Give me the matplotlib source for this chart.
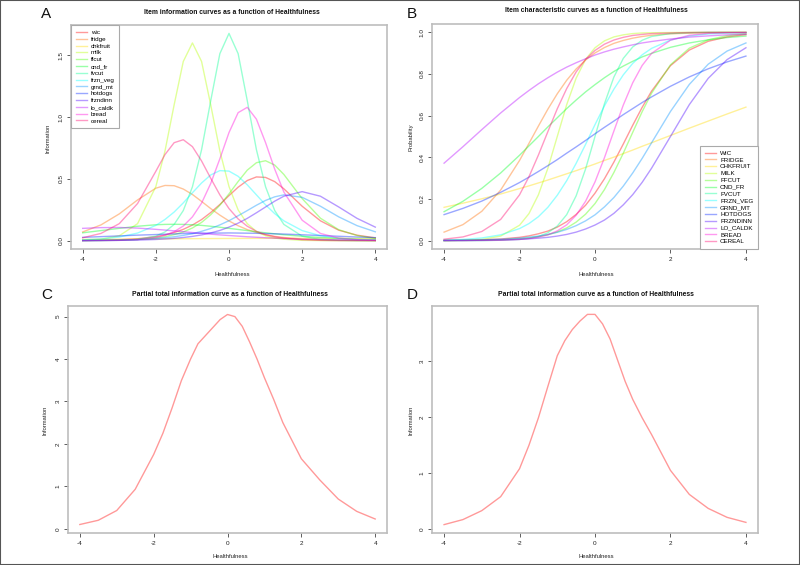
import matplotlib.pyplot as plt
from matplotlib.patches import Rectangle

plt.rcParams['font.family'] = ['Liberation Sans', 'DejaVu Sans']

# Healthfulness grid (x values for panels A and B)
theta = [-4.0, -3.5, -3.0, -2.5, -2.0, -1.75, -1.5, -1.25, -1.0, -0.75, -0.5, -0.25, 0.0,
         0.25, 0.5, 0.75, 1.0, 1.25, 1.5, 2.0, 2.5, 3.0, 3.5, 4.0]

item_names = ['wic', 'fridge', 'chkfruit', 'milk', 'ffcut', 'cnd_fr', 'fvcut',
              'frzn_veg', 'grnd_mt', 'hotdogs', 'frzndinn', 'lo_caldk', 'bread', 'cereal']
item_labels_upper = ['WIC', 'FRIDGE', 'CHKFRUIT', 'MILK', 'FFCUT', 'CND_FR', 'FVCUT',
                     'FRZN_VEG', 'GRND_MT', 'HOTDOGS', 'FRZNDINN', 'LO_CALDK', 'BREAD', 'CEREAL']

# A: item information
info_wic = [0.002, 0.004, 0.008, 0.016, 0.033, 0.047, 0.066, 0.092, 0.127, 0.171, 0.228, 0.293, 0.365, 0.433, 0.487, 0.516, 0.512, 0.478, 0.420, 0.279, 0.161, 0.085, 0.045, 0.023]
info_fridge = [0.071, 0.128, 0.217, 0.330, 0.425, 0.447, 0.445, 0.418, 0.374, 0.318, 0.260, 0.207, 0.160, 0.121, 0.090, 0.067, 0.049, 0.035, 0.026, 0.013, 0.007, 0.004, 0.002, 0.001]
info_chkfruit = [0.0105, 0.0115, 0.0126, 0.0136, 0.0147, 0.0152, 0.0157, 0.0162, 0.0166, 0.0171, 0.0175, 0.0179, 0.0182, 0.0186, 0.0188, 0.0191, 0.0193, 0.0194, 0.0195, 0.0196, 0.0195, 0.0192, 0.0187, 0.0180]
info_milk = [0.003, 0.012, 0.040, 0.138, 0.438, 0.726, 1.099, 1.450, 1.600, 1.450, 1.099, 0.726, 0.438, 0.249, 0.138, 0.075, 0.040, 0.022, 0.012, 0.003, 0.001, 0.000, 0.000, 0.000]
info_ffcut = [0.001, 0.002, 0.004, 0.010, 0.022, 0.033, 0.049, 0.071, 0.103, 0.148, 0.210, 0.287, 0.379, 0.479, 0.571, 0.631, 0.647, 0.612, 0.536, 0.341, 0.182, 0.089, 0.042, 0.019]
info_cnd_fr = [0.064, 0.082, 0.100, 0.117, 0.129, 0.132, 0.133, 0.132, 0.129, 0.124, 0.117, 0.109, 0.100, 0.091, 0.082, 0.072, 0.064, 0.056, 0.048, 0.036, 0.026, 0.019, 0.013, 0.009]
info_fvcut = [0.000, 0.001, 0.003, 0.010, 0.037, 0.071, 0.132, 0.244, 0.436, 0.736, 1.132, 1.513, 1.677, 1.513, 1.132, 0.736, 0.436, 0.244, 0.132, 0.037, 0.010, 0.003, 0.001, 0.000]
info_frzn_veg = [0.007, 0.014, 0.030, 0.062, 0.124, 0.172, 0.232, 0.306, 0.388, 0.467, 0.532, 0.567, 0.563, 0.521, 0.452, 0.371, 0.290, 0.219, 0.161, 0.082, 0.040, 0.019, 0.009, 0.004]
info_grnd_mt = [0.002, 0.003, 0.005, 0.010, 0.018, 0.024, 0.032, 0.043, 0.057, 0.076, 0.099, 0.128, 0.162, 0.202, 0.244, 0.287, 0.326, 0.355, 0.371, 0.351, 0.279, 0.193, 0.122, 0.072]
info_hotdogs = [0.027, 0.033, 0.039, 0.045, 0.050, 0.053, 0.055, 0.058, 0.059, 0.061, 0.062, 0.062, 0.063, 0.062, 0.061, 0.060, 0.058, 0.056, 0.054, 0.048, 0.042, 0.036, 0.030, 0.025]
info_frzndinn = [0.001, 0.002, 0.003, 0.005, 0.010, 0.014, 0.019, 0.026, 0.035, 0.047, 0.063, 0.083, 0.110, 0.142, 0.181, 0.226, 0.273, 0.320, 0.360, 0.397, 0.360, 0.273, 0.181, 0.110]
info_lo_caldk = [0.100, 0.106, 0.107, 0.102, 0.092, 0.086, 0.080, 0.073, 0.066, 0.060, 0.053, 0.047, 0.042, 0.037, 0.032, 0.028, 0.024, 0.021, 0.018, 0.013, 0.010, 0.007, 0.005, 0.004]
info_bread = [0.000, 0.001, 0.003, 0.009, 0.026, 0.044, 0.073, 0.119, 0.193, 0.304, 0.463, 0.663, 0.875, 1.036, 1.079, 0.983, 0.793, 0.579, 0.394, 0.166, 0.059, 0.021, 0.008, 0.003]
info_cereal = [0.024, 0.059, 0.138, 0.301, 0.562, 0.697, 0.793, 0.817, 0.761, 0.645, 0.505, 0.371, 0.260, 0.176, 0.117, 0.076, 0.049, 0.032, 0.021, 0.008, 0.003, 0.001, 0.001, 0.000]

# B: item characteristic curves (probability)
prob_wic = [0.001, 0.002, 0.004, 0.008, 0.016, 0.023, 0.033, 0.046, 0.065, 0.091, 0.126, 0.170, 0.228, 0.297, 0.377, 0.464, 0.554, 0.640, 0.718, 0.840, 0.915, 0.957, 0.978, 0.989]
prob_fridge = [0.041, 0.077, 0.141, 0.243, 0.385, 0.467, 0.550, 0.631, 0.705, 0.770, 0.824, 0.867, 0.901, 0.927, 0.947, 0.961, 0.972, 0.980, 0.986, 0.993, 0.996, 0.998, 0.999, 0.999]
prob_chkfruit = [0.160, 0.180, 0.201, 0.224, 0.250, 0.263, 0.277, 0.291, 0.306, 0.321, 0.336, 0.352, 0.368, 0.385, 0.401, 0.418, 0.435, 0.453, 0.470, 0.505, 0.540, 0.574, 0.608, 0.641]
prob_milk = [0.001, 0.002, 0.006, 0.022, 0.074, 0.130, 0.220, 0.347, 0.500, 0.653, 0.780, 0.870, 0.926, 0.959, 0.978, 0.988, 0.994, 0.997, 0.998, 0.999, 1.000, 1.000, 1.000, 1.000]
prob_ffcut = [0.000, 0.001, 0.002, 0.004, 0.009, 0.013, 0.019, 0.028, 0.042, 0.061, 0.089, 0.127, 0.178, 0.245, 0.327, 0.420, 0.520, 0.619, 0.708, 0.844, 0.924, 0.964, 0.984, 0.993]
prob_cnd_fr = [0.139, 0.189, 0.251, 0.325, 0.410, 0.455, 0.500, 0.546, 0.590, 0.634, 0.675, 0.714, 0.749, 0.782, 0.812, 0.838, 0.861, 0.882, 0.899, 0.928, 0.949, 0.964, 0.975, 0.982]
prob_fvcut = [0.000, 0.000, 0.000, 0.002, 0.006, 0.011, 0.020, 0.038, 0.070, 0.125, 0.215, 0.344, 0.500, 0.657, 0.785, 0.875, 0.930, 0.962, 0.980, 0.994, 0.998, 1.000, 1.000, 1.000]
prob_frzn_veg = [0.003, 0.006, 0.013, 0.028, 0.058, 0.082, 0.115, 0.160, 0.218, 0.288, 0.371, 0.462, 0.557, 0.647, 0.727, 0.796, 0.851, 0.892, 0.923, 0.963, 0.982, 0.992, 0.996, 0.998]
prob_grnd_mt = [0.001, 0.002, 0.004, 0.007, 0.012, 0.017, 0.022, 0.030, 0.040, 0.054, 0.072, 0.095, 0.124, 0.162, 0.207, 0.262, 0.325, 0.395, 0.470, 0.620, 0.750, 0.847, 0.910, 0.949]
prob_hotdogs = [0.125, 0.155, 0.190, 0.232, 0.279, 0.305, 0.332, 0.360, 0.389, 0.420, 0.450, 0.481, 0.513, 0.544, 0.574, 0.605, 0.634, 0.663, 0.690, 0.741, 0.786, 0.825, 0.858, 0.886]
prob_frzndinn = [0.001, 0.001, 0.002, 0.003, 0.006, 0.009, 0.012, 0.016, 0.022, 0.030, 0.041, 0.056, 0.075, 0.099, 0.131, 0.172, 0.221, 0.280, 0.348, 0.500, 0.653, 0.779, 0.869, 0.926]
prob_lo_caldk = [0.372, 0.451, 0.533, 0.613, 0.687, 0.721, 0.753, 0.782, 0.809, 0.833, 0.854, 0.873, 0.891, 0.906, 0.919, 0.930, 0.940, 0.949, 0.956, 0.968, 0.977, 0.983, 0.988, 0.991]
prob_bread = [0.000, 0.000, 0.001, 0.002, 0.006, 0.010, 0.017, 0.028, 0.047, 0.076, 0.122, 0.189, 0.282, 0.398, 0.526, 0.651, 0.758, 0.841, 0.899, 0.962, 0.986, 0.995, 0.998, 0.999]
prob_cereal = [0.007, 0.018, 0.044, 0.102, 0.220, 0.307, 0.411, 0.523, 0.633, 0.730, 0.810, 0.870, 0.913, 0.943, 0.963, 0.976, 0.985, 0.990, 0.994, 0.997, 0.999, 1.000, 1.000, 1.000]

# C / D: partial total information
theta_total = [-4.0, -3.5, -3.0, -2.5, -2.0, -1.75, -1.5, -1.25, -1.0, -0.8, -0.6, -0.4, -0.2,
               0.0, 0.2, 0.4, 0.6, 0.8, 1.0, 1.25, 1.5, 2.0, 2.5, 3.0, 3.5, 4.0]
total_info_c = [0.10, 0.20, 0.43, 0.93, 1.75, 2.25, 2.85, 3.49, 4.00, 4.36, 4.55, 4.74, 4.93,
                5.05, 5.00, 4.77, 4.40, 4.00, 3.56, 3.05, 2.50, 1.65, 1.15, 0.70, 0.41, 0.23]
total_info_d = [0.08, 0.17, 0.33, 0.58, 1.08, 1.50, 1.99, 2.55, 3.10, 3.37, 3.57, 3.72, 3.84,
                3.84, 3.67, 3.40, 3.02, 2.64, 2.32, 1.99, 1.69, 1.05, 0.62, 0.37, 0.21, 0.12]

info_items = [info_wic, info_fridge, info_chkfruit, info_milk, info_ffcut, info_cnd_fr, info_fvcut,
              info_frzn_veg, info_grnd_mt, info_hotdogs, info_frzndinn, info_lo_caldk, info_bread, info_cereal]
prob_items = [prob_wic, prob_fridge, prob_chkfruit, prob_milk, prob_ffcut, prob_cnd_fr, prob_fvcut,
              prob_frzn_veg, prob_grnd_mt, prob_hotdogs, prob_frzndinn, prob_lo_caldk, prob_bread, prob_cereal]

# R rainbow(14) palette, drawn semi-transparent
colors = ['#FF0000', '#FF6D00', '#FFDB00', '#B6FF00', '#49FF00', '#00FF24', '#00FF92',
          '#00FFFF', '#0092FF', '#0024FF', '#4900FF', '#B600FF', '#FF00DB', '#FF006D']
ALPHA = 0.4

W, H = 800, 565
fig = plt.figure(figsize=(W / 100, H / 100), dpi=100)


def px_axes(left, top, right, bottom):
    return fig.add_axes([left / W, 1 - bottom / H, (right - left) / W, (bottom - top) / H])


def fig_text(x, y, s, **kw):
    fig.text(x / W, 1 - y / H, s, ha='center', va='center', **kw)


def style(ax, yticks, ylabels, ylim):
    ax.set_xlim(-4.32, 4.32)
    ax.set_ylim(*ylim)
    ax.set_xticks([-4, -2, 0, 2, 4])
    ax.set_xticklabels(['-4', '-2', '0', '2', '4'])
    ax.set_yticks(yticks)
    ax.set_yticklabels(ylabels)
    ax.tick_params(length=3, width=0.6, pad=2.5, labelsize=4.6, color='#444444', labelcolor='#222222')
    ax.tick_params(axis='y', labelrotation=90)
    for lbl in ax.get_yticklabels():
        lbl.set_va('center')
    for sp in ax.spines.values():
        sp.set_color('#BDBDBD')
        sp.set_linewidth(1.2)


def add_legend(ax, loc):
    leg = ax.legend(loc=loc, borderaxespad=0, fontsize=4.5, handlelength=1.8,
                    handletextpad=0.6, labelspacing=0.23, borderpad=0.75, fancybox=False,
                    framealpha=1, edgecolor='#AAAAAA')
    leg.get_frame().set_linewidth(0.8)


axA = px_axes(71, 25, 387, 249)
axB = px_axes(432, 24, 758, 249)
axC = px_axes(68, 306, 387, 533)
axD = px_axes(432, 306, 758, 533)

# Panel A
for vals, name, col in zip(info_items, item_names, colors):
    axA.plot(theta, vals, color=col, alpha=ALPHA, lw=1.0, label=name)
style(axA, [0.0, 0.5, 1.0, 1.5], ['0.0', '0.5', '1.0', '1.5'], (-0.067, 1.745))
add_legend(axA, 'upper left')

# Panel B
for vals, name, col in zip(prob_items, item_labels_upper, colors):
    axB.plot(theta, vals, color=col, alpha=ALPHA, lw=1.0, label=name)
style(axB, [0.0, 0.2, 0.4, 0.6, 0.8, 1.0], ['0.0', '0.2', '0.4', '0.6', '0.8', '1.0'], (-0.04, 1.04))
add_legend(axB, 'lower right')

# Panels C and D
axC.plot(theta_total, total_info_c, color='#FF0000', alpha=ALPHA, lw=1.0)
style(axC, [0, 1, 2, 3, 4, 5], ['0', '1', '2', '3', '4', '5'], (-0.10, 5.25))
axD.plot(theta_total, total_info_d, color='#FF0000', alpha=ALPHA, lw=1.0)
style(axD, [0, 1, 2, 3], ['0', '1', '2', '3'], (-0.07, 3.99))

# Titles, axis labels, panel letters
title_kw = dict(fontsize=4.9, fontweight='bold', color='#111111')
fig_text(232, 12, 'Item information curves as a function of Healthfulness', **title_kw)
fig_text(596, 11, 'Item characteristic curves as a function of Healthfulness', **title_kw)
fig_text(230, 294, 'Partial total information curve as a function of Healthfulness', **title_kw)
fig_text(596, 294, 'Partial total information curve as a function of Healthfulness', **title_kw)

lab_kw = dict(fontsize=4.2, color='#222222')
fig_text(232, 274, 'Healthfulness', **lab_kw)
fig_text(596, 274, 'Healthfulness', **lab_kw)
fig_text(230, 556, 'Healthfulness', **lab_kw)
fig_text(596, 556, 'Healthfulness', **lab_kw)
fig_text(48, 138, 'Information', rotation=90, **lab_kw)
fig_text(411, 137, 'Probability', rotation=90, **lab_kw)
fig_text(45, 420, 'Information', rotation=90, **lab_kw)
fig_text(411, 420, 'Information', rotation=90, **lab_kw)

let_kw = dict(fontsize=11, color='#111111')
fig_text(46, 14, 'A', **let_kw)
fig_text(412, 14, 'B', **let_kw)
fig_text(47, 295, 'C', **let_kw)
fig_text(412, 295, 'D', **let_kw)

# outer frame of the figure
fig.patches.append(Rectangle((0, 0), 1, 1, transform=fig.transFigure, fill=False,
                             edgecolor='#555555', lw=1.5))

fig.savefig('out.png', dpi=100, facecolor='white')
